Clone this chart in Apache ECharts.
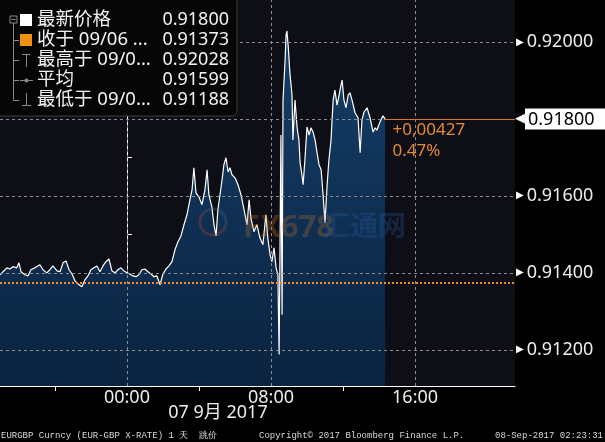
<!DOCTYPE html>
<html><head><meta charset="utf-8">
<script src="https://cdn.jsdelivr.net/npm/echarts@6/dist/echarts.min.js"></script>
<style>html,body{margin:0;padding:0;background:#000;}#c{width:605px;height:442px;}</style>
</head><body><div id="c"></div><script>
// minutes relative to 00:00, 07 Sep 2017
const times = [
 -423,-413,-400,-390,-380,-367,-360,-353,-340,-330,
 -320,-307,-290,-280,-267,-257,-247,-233,-223,-213,
 -203,-193,-183,-173,-163,-150,-140,-130,-120,-110,
 -100,-90,-80,-70,-60,-50,-40,-30,-20,-10,
 0,10,20,30,40,50,60,70,80,90,
 100,110,120,130,140,150,160,170,180,190,
 200,210,217,223,230,240,250,260,267,273,
 283,290,297,303,310,317,323,330,337,343,
 350,360,370,380,390,400,407,413,423,433,
 443,453,463,470,477,483,490,497,503,507,
 510,513,517,520,527,530,533,537,543,550,
 553,560,567,573,577,583,587,593,600,607,
 613,620,627,633,640,647,653,660,667,673,
 680,687,693,700,707,713,717,723,730,737,
 743,750,760,770,777,783,790,800,810,820,
 827,833,843,853,860];
const prices = [
 0.91395,0.91403,0.91413,0.91410,0.91416,0.91413,0.91426,0.91403,0.91395,0.91392,
 0.91408,0.91413,0.91421,0.91408,0.91400,0.91408,0.91418,0.91405,0.91403,0.91426,
 0.91431,0.91408,0.91397,0.91379,0.91371,0.91364,0.91382,0.91392,0.91408,0.91413,
 0.91418,0.91403,0.91418,0.91429,0.91436,0.91405,0.91400,0.91408,0.91413,0.91405,
 0.91400,0.91397,0.91392,0.91390,0.91395,0.91408,0.91410,0.91403,0.91397,0.91390,
 0.91392,0.91369,0.91397,0.91410,0.91418,0.91429,0.91460,0.91481,0.91496,0.91525,
 0.91551,0.91590,0.91616,0.91673,0.91608,0.91597,0.91577,0.91616,0.91668,0.91603,
 0.91571,0.91525,0.91496,0.91564,0.91603,0.91642,0.91681,0.91699,0.91662,0.91673,
 0.91655,0.91647,0.91629,0.91603,0.91564,0.91525,0.91590,0.91543,0.91507,0.91525,
 0.91491,0.91473,0.91551,0.91486,0.91447,0.91429,0.91465,0.91413,0.91395,0.91188,
 0.91460,0.91758,0.91291,0.91849,0.91953,0.92018,0.92028,0.91992,0.91919,0.91862,
 0.91745,0.91849,0.91777,0.91745,0.91686,0.91655,0.91629,0.91694,0.91779,0.91758,
 0.91777,0.91766,0.91745,0.91714,0.91681,0.91668,0.91608,0.91530,0.91629,0.91694,
 0.91745,0.91849,0.91875,0.91836,0.91862,0.91888,0.91901,0.91849,0.91829,0.91862,
 0.91868,0.91849,0.91816,0.91803,0.91712,0.91797,0.91818,0.91829,0.91803,0.91766,
 0.91777,0.91771,0.91792,0.91808,0.91800];

const xTickLabels = ['00:00','08:00','16:00'];
const xLabelValues = [0,480,960];
const xTickValues = [-240,240,720];
const yLabelValues = [0.912,0.914,0.916,0.920];
const yGridValues = [0.912,0.914,0.916,0.918,0.920];
const yTickValues = [0.913,0.915,0.917,0.919,0.921];
const prevClose = 0.91373;
const lastPrice = 0.91800;
const changeText = ['+0,00427','0.47%'];
const dateLabel = '07 9月 2017';
const legendNames = ['最新价格','收于 09/06 ...','最高于 09/0...','平均','最低于 09/0...'];
const legendValues = ['0.91800','0.91373','0.92028','0.91599','0.91188'];
const footer = ['EURGBP Curncy (EUR-GBP X-RATE) 1 天  跳价','Copyright© 2017 Bloomberg Finance L.P.','08-Sep-2017 02:23:31'];

const xMin = -423, xMax = 1293, yMin = 0.91106, yMax = 0.92109;
const FONT = "'Noto Sans','Noto Sans CJK SC',sans-serif";
const lastTime = times[times.length-1];

const chart = echarts.init(document.getElementById('c'), null, {renderer:'canvas'});

const legendEls = [];
legendEls.push({type:'rect', shape:{x:-3,y:-3,width:240,height:119,r:5}, style:{fill:'#060606', stroke:'#3c3c3c', lineWidth:1}});
const G = '#8a8a8a';
legendEls.push({type:'rect', shape:{x:10,y:16,width:7,height:7}, style:{fill:'none', stroke:G, lineWidth:1}});
legendEls.push({type:'line', shape:{x1:11.5,y1:19.5,x2:15.5,y2:19.5}, style:{stroke:G, lineWidth:1}});
legendEls.push({type:'line', shape:{x1:13.5,y1:23,x2:13.5,y2:100.5}, style:{stroke:G, lineWidth:1}});
[40,60,80,100].forEach(y=>legendEls.push({type:'line', shape:{x1:13.5,y1:y+0.5,x2:19,y2:y+0.5}, style:{stroke:G, lineWidth:1}}));
legendEls.push({type:'rect', shape:{x:20,y:14,width:12,height:12}, style:{fill:'#ffffff'}});
legendEls.push({type:'rect', shape:{x:20,y:34,width:12,height:12}, style:{fill:'#f0900f'}});
legendEls.push({type:'line', shape:{x1:22,y1:54.5,x2:30,y2:54.5}, style:{stroke:G, lineWidth:1}});
legendEls.push({type:'line', shape:{x1:26.5,y1:54.5,x2:26.5,y2:67}, style:{stroke:G, lineWidth:1}});
legendEls.push({type:'line', shape:{x1:20,y1:80.5,x2:33,y2:80.5}, style:{stroke:G, lineWidth:1}});
legendEls.push({type:'circle', shape:{cx:26.5,cy:80.5,r:2}, style:{fill:G}});
legendEls.push({type:'line', shape:{x1:26.5,y1:93,x2:26.5,y2:105.5}, style:{stroke:G, lineWidth:1}});
legendEls.push({type:'line', shape:{x1:22,y1:105.5,x2:31,y2:105.5}, style:{stroke:G, lineWidth:1}});
legendNames.forEach((n,i)=>{
  legendEls.push({type:'text', style:{text:n, x:37, y:20+20*i, font:'18.5px '+FONT, fill:'#f2f2f2', textAlign:'left', textVerticalAlign:'middle'}});
  legendEls.push({type:'text', style:{text:legendValues[i], x:229, y:20+20*i, font:'18px '+FONT, fill:'#f2f2f2', textAlign:'right', textVerticalAlign:'middle'}});
});

const gridLineData = [
  ...xLabelValues.map(v=>[{coord:[v,yMin]},{coord:[v,yMax]}]),
  ...yGridValues.map(v=>[{coord:[xMin,v]},{coord:[xMax,v]}])
];

const option = {
  backgroundColor:'#000',
  animation:false,
  grid:{left:0, right:90, top:0, bottom:56, show:true, backgroundColor:'#0e0e16', borderWidth:0, containLabel:false},
  xAxis:{type:'value', min:xMin, max:xMax,
    axisLine:{show:true, onZero:false, lineStyle:{color:'#ffffff', width:1}},
    axisTick:{show:true, customValues:xTickValues, length:5, lineStyle:{color:'#ffffff'}},
    axisLabel:{show:true, customValues:xLabelValues, formatter:v=>xTickLabels[xLabelValues.indexOf(v)], color:'#ececec', fontSize:18, fontFamily:FONT, margin:3},
    splitLine:{show:false}},
  yAxis:{type:'value', position:'right', min:yMin, max:yMax,
    axisLine:{show:true, lineStyle:{color:'#ffffff', width:1}},
    axisTick:{show:true, customValues:yTickValues, length:5, lineStyle:{color:'#ffffff'}},
    axisLabel:{show:true, customValues:yLabelValues, margin:1,
      formatter:v=>'{t|▶}{v|'+v.toFixed(5)+'}',
      rich:{t:{color:'#ffffff', fontSize:10, fontFamily:'DejaVu Sans'}, v:{color:'#ececec', fontSize:18, fontFamily:FONT, padding:[0,0,0,3]}}},
    splitLine:{show:false}},
  series:[
    {type:'line', data:times.map((t,i)=>[t,prices[i]]), showSymbol:false, symbol:'none', z:2,
      lineStyle:{color:'#ffffff', width:1.2},
      areaStyle:{origin:'start', color:new echarts.graphic.LinearGradient(0,0,0,1,[{offset:0,color:'#153e68'},{offset:1,color:'#0a2340'}]), opacity:1}
    },
    {type:'line', data:[], z:4,
      markLine:{silent:true, symbol:'none', animation:false, label:{show:false},
        data:[
          ...gridLineData.map(p=>[Object.assign({lineStyle:{color:'#8c8c8c', type:[3,3], width:1}}, p[0]), p[1]]),
          [{coord:[xMin,prevClose], lineStyle:{type:[2,2], width:2, color:'#e8902f'}}, {coord:[xMax,prevClose]}],
          [{coord:[lastTime,lastPrice], lineStyle:{type:'solid', width:1, color:'#d9782a'},
            label:{show:true, position:'end', distance:0,
              formatter:'{a|◀}{b|'+lastPrice.toFixed(5)+'}',
              rich:{a:{color:'#ffffff', fontSize:13, fontFamily:'DejaVu Sans'}, b:{backgroundColor:'#ffffff', color:'#000000', fontSize:18, fontFamily:FONT, padding:[2,22,1,3]}}}},
           {coord:[xMax,lastPrice]}]
        ]},
      markPoint:{silent:true, symbol:'circle', symbolSize:1, itemStyle:{color:'rgba(0,0,0,0)'}, animation:false,
        data:[{coord:[lastTime,lastPrice], label:{show:true, position:[8,1], formatter:changeText.join('\n'), color:'#e38a35', fontSize:17, lineHeight:21, fontFamily:FONT, align:'left', verticalAlign:'top'}}]}
    }
  ],
  graphic:[
    {type:'arc', z:50, silent:true, shape:{cx:213,cy:222,r:13,startAngle:0.4,endAngle:3.9}, style:{stroke:'rgba(190,70,50,0.3)', lineWidth:3, fill:'none'}},
    {type:'arc', z:50, silent:true, shape:{cx:213,cy:222,r:13,startAngle:3.9,endAngle:6.68}, style:{stroke:'rgba(110,120,140,0.22)', lineWidth:3, fill:'none'}},
    {type:'text', z:50, silent:true, style:{text:'FX678', x:243, y:228, font:'bold 31px '+FONT, fill:'rgba(200,120,40,0.28)', textVerticalAlign:'middle'}},
    {type:'text', z:50, silent:true, style:{text:'汇通网', x:322, y:228, font:'bold 28px '+FONT, fill:'rgba(40,90,160,0.3)', textVerticalAlign:'middle'}},
    {type:'group', z:60, children:legendEls.map(e=>Object.assign({z:60}, e))},
    {type:'text', z:10, style:{text:dateLabel, x:218, y:413, font:'18px '+FONT, fill:'#ececec', textAlign:'center', textVerticalAlign:'middle'}},
    {type:'text', z:10, style:{text:footer[0], x:1, y:436, font:"9px 'Liberation Mono', monospace", fill:'#d8d8d8', textVerticalAlign:'middle'}},
    {type:'text', z:10, style:{text:footer[1], x:259, y:436, font:"9px 'Liberation Mono', monospace", fill:'#d8d8d8', textVerticalAlign:'middle'}},
    {type:'text', z:10, style:{text:footer[2], x:603, y:436, font:"9px 'Liberation Mono', monospace", fill:'#d8d8d8', textAlign:'right', textVerticalAlign:'middle'}}
  ]
};
chart.setOption(option);
</script></body></html>
